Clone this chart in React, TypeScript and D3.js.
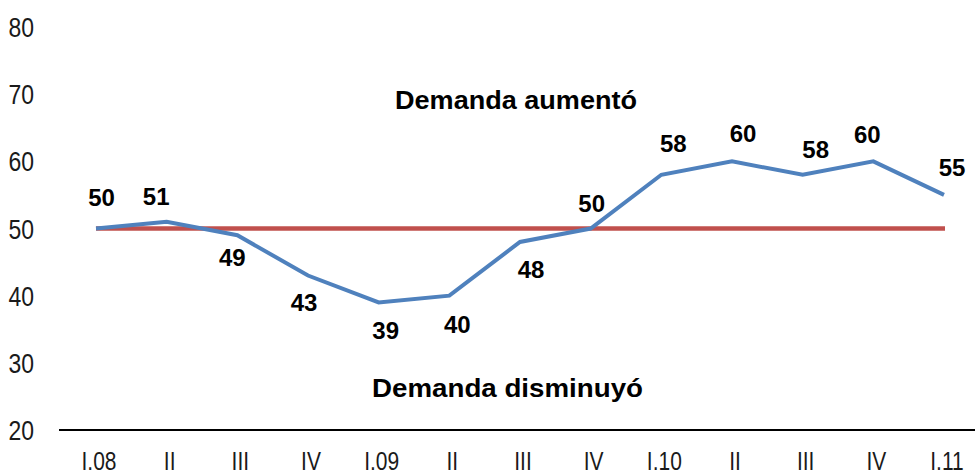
import React from "react";
import * as d3 from "d3";

const categories = ["I.08", "II", "III", "IV", "I.09", "II", "III", "IV", "I.10", "II", "III", "IV", "I.11"];
const values = [50, 51, 49, 43, 39, 40, 48, 50, 58, 60, 58, 60, 55];
const threshold = 50;
const yTicks = [20, 30, 40, 50, 60, 70, 80];
const upperNote = "Demanda aumentó";
const lowerNote = "Demanda disminuyó";

// label offsets (dx, dy) relative to each data point
const labelOffsets: [number, number][] = [
  [5.5, -31], [-10.5, -25], [-5, 22], [-4, 26.5], [7, 28], [8, 29], [11, 27],
  [1, -25.5], [12, -31], [11, -28], [13, -25], [-6, -27], [8, -28],
];

export default function App() {
  const W = 975, H = 470;
  const x = d3.scalePoint<number>().domain(d3.range(categories.length)).range([96, 944]);
  const y = d3.scaleLinear().domain([20, 80]).range([430, 27]);
  const line = d3.line<number>().x((_, i) => x(i)!).y((d) => y(d));
  const sans = "'Liberation Sans', Arial, sans-serif";
  return (
    <svg width={W} height={H} style={{ position: "absolute", left: 0, top: 0, background: "#fff" }}>
      {yTicks.map((t) => (
        <text key={t} transform={`translate(34,${y(t)}) scale(0.82,1)`} dy="0.36em" textAnchor="end"
          fontFamily={sans} fontSize={28} fill="#1a1a1a">
          {t}
        </text>
      ))}
      <line x1={59} x2={975} y1={y(20)} y2={y(20)} stroke="#000" strokeWidth={2.2} />
      {categories.map((c, i) => (
        <text key={i} transform={`translate(${x(i)! + 3},470) scale(0.84,1)`} textAnchor="middle"
          fontFamily={sans} fontSize={25} fill="#1a1a1a">
          {c}
        </text>
      ))}
      <line x1={x(0)!} x2={x(categories.length - 1)! + 1} y1={y(threshold)} y2={y(threshold)} stroke="#C0504D" strokeWidth={4.5} />
      <path d={line(values)!} fill="none" stroke="#4F81BD" strokeWidth={4} strokeLinejoin="miter" />
      {values.map((v, i) => (
        <text key={i} x={x(i)! + labelOffsets[i][0]} y={y(v) + labelOffsets[i][1]} dy="0.36em" textAnchor="middle"
          fontFamily={sans} fontWeight="bold" fontSize={24} fill="#000">
          {v}
        </text>
      ))}
      <text x={395} y={109} textLength={242} lengthAdjust="spacingAndGlyphs"
        fontFamily={sans} fontWeight="bold" fontSize={25}>{upperNote}</text>
      <text x={372} y={397} textLength={271} lengthAdjust="spacingAndGlyphs"
        fontFamily={sans} fontWeight="bold" fontSize={26}>{lowerNote}</text>
    </svg>
  );
}
